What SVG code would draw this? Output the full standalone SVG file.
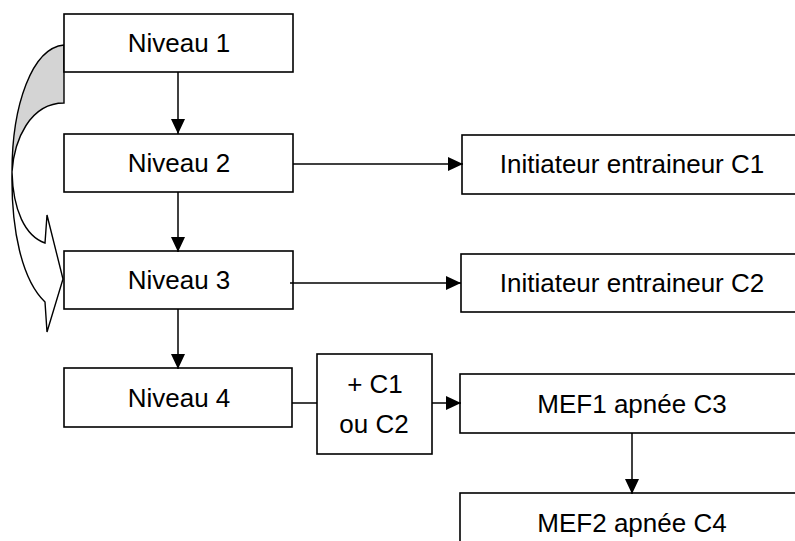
<svg xmlns="http://www.w3.org/2000/svg" width="795" height="541" viewBox="0 0 795 541">
<defs>
<style>
.box{fill:#fff;stroke:#000;stroke-width:1.6}
.t{font-family:"Liberation Sans",Arial,sans-serif;font-size:26px;fill:#000;text-anchor:middle}
.c{stroke:#000;stroke-width:1.5;fill:none}
.shape{stroke:#000;stroke-width:1.4}
</style>
<marker id="ah" markerUnits="userSpaceOnUse" markerWidth="16" markerHeight="14" refX="15" refY="7" orient="auto">
<path d="M0,0 L15,7 L0,14 Z" fill="#000"/>
</marker>
</defs>
<rect width="795" height="541" fill="#fff"/>
<g id="curved-arrow">
<path class="shape" fill="#d4d4d4" d="M64,45 C32,48 12,105 12,172 C14,140 30,103 64,103 Z"/>
<path class="shape" fill="#fff" d="M12,172 C11,230 22,280 45,302 L47,332 L63,279 L47,215 L45,243 C25,236 13,210 12,172 Z"/>
</g>
<g id="n1"><rect class="box" x="64" y="14" width="229" height="58"/><text class="t" x="179" y="52">Niveau 1</text></g>
<g id="n2"><rect class="box" x="64" y="134" width="229" height="58"/><text class="t" x="179" y="172">Niveau 2</text></g>
<g id="n3"><rect class="box" x="64" y="251" width="229" height="58"/><text class="t" x="179" y="289">Niveau 3</text></g>
<g id="n4"><rect class="box" x="64" y="368" width="228" height="59"/><text class="t" x="179" y="407">Niveau 4</text></g>
<g id="c1"><rect class="box" x="462" y="135" width="345" height="59"/><text class="t" x="632" y="173">Initiateur entraineur C1</text></g>
<g id="c2"><rect class="box" x="461" y="254" width="346" height="58"/><text class="t" x="632" y="292">Initiateur entraineur C2</text></g>
<g id="plus"><rect class="box" x="317" y="354" width="115" height="100"/><text class="t" x="375" y="393">+ C1</text><text class="t" x="374" y="433">ou C2</text></g>
<g id="c3"><rect class="box" x="460" y="374" width="347" height="59"/><text class="t" x="632" y="413">MEF1 apnée C3</text></g>
<g id="c4"><rect class="box" x="460" y="493" width="347" height="60"/><text class="t" x="632" y="532">MEF2 apnée C4</text></g>
<g id="connectors">
<line class="c" x1="178" y1="72" x2="178" y2="134" marker-end="url(#ah)"/>
<line class="c" x1="178" y1="192" x2="178" y2="252" marker-end="url(#ah)"/>
<line class="c" x1="178" y1="309" x2="178" y2="369" marker-end="url(#ah)"/>
<line class="c" x1="293" y1="164" x2="463" y2="164" marker-end="url(#ah)"/>
<line class="c" x1="290" y1="283" x2="461" y2="283" marker-end="url(#ah)"/>
<line class="c" x1="292" y1="403" x2="317" y2="403"/>
<line class="c" x1="432" y1="403" x2="461" y2="403" marker-end="url(#ah)"/>
<line class="c" x1="632" y1="433" x2="632" y2="494" marker-end="url(#ah)"/>
</g>
</svg>
